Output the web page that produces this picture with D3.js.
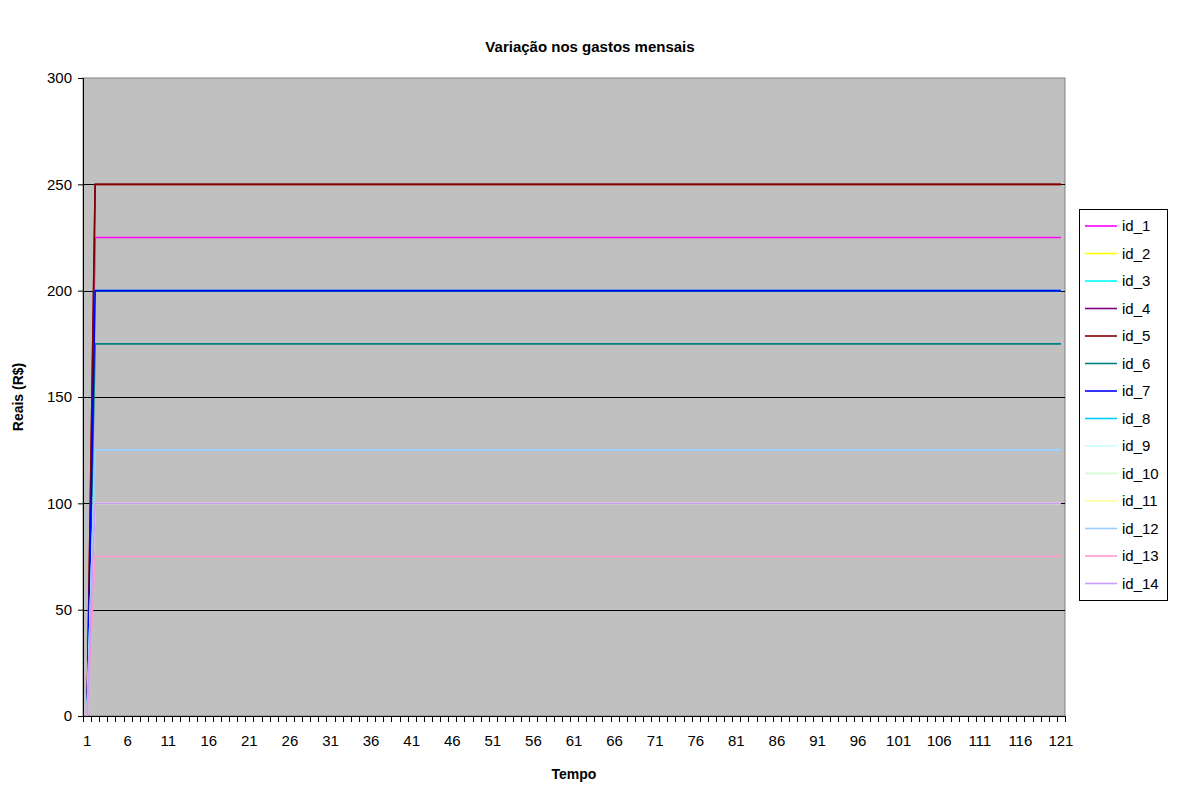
<!DOCTYPE html>
<html>
<head>
<meta charset="utf-8">
<script src="https://cdn.jsdelivr.net/npm/d3@7"></script>
<style>
  body { margin: 0; background: #fff; }
  text { font-family: Arial, "Liberation Sans", sans-serif; }
</style>
</head>
<body>
<script>
var svgWidth = 1179;
var svgHeight = 787;

// plot area (Excel style)
var margin = { top: 78, right: 114, bottom: 71, left: 83 };
var chartWidth = svgWidth - margin.left - margin.right;
var chartHeight = svgHeight - margin.top - margin.bottom;

// categories 1..121 (time steps)
var tempo = d3.range(1, 122);
var xTickLabels = d3.range(1, 122, 5);
var yTicks = [0, 50, 100, 150, 200, 250, 300];

// series: start value at t=1, then a constant level from t=2 on
var seriesNames = ["id_1", "id_2", "id_3", "id_4", "id_5", "id_6", "id_7",
                   "id_8", "id_9", "id_10", "id_11", "id_12", "id_13", "id_14"];
var startValues = [0, 0, 0, 0, 0, 0, 0, 0, 0, 0, 0, 0, 0, 0];
var levelValues = [225, 250, 200, 250, 250, 175, 200, 125, 125, 100, 100, 125, 75, 100];
var seriesColors = ["#ff00ff", "#ffff00", "#00ffff", "#800080", "#800000", "#008080", "#0000ff",
                    "#00ccff", "#ccffff", "#ccffcc", "#ffff99", "#99ccff", "#ff99cc", "#cc99ff"];

var svg = d3.select("body").append("svg")
  .attr("width", svgWidth)
  .attr("height", svgHeight);

var chartGroup = svg.append("g")
  .attr("transform", `translate(${margin.left}, ${margin.top})`);

var xBand = d3.scaleBand()
  .domain(tempo)
  .range([0, chartWidth]);
var xPos = (d) => xBand(d) + xBand.bandwidth() / 2;

var yScale = d3.scaleLinear()
  .domain([0, 300])
  .range([chartHeight, 0]);

// background
chartGroup.append("rect")
  .attr("width", chartWidth)
  .attr("height", chartHeight)
  .attr("fill", "#c0c0c0")
  .attr("stroke", "#808080")
  .attr("stroke-width", 1);

// gridlines
chartGroup.append("g")
  .selectAll("line")
  .data(yTicks.filter(d => d > 0 && d < 300))
  .enter().append("line")
  .attr("x1", 0)
  .attr("x2", chartWidth)
  .attr("y1", d => Math.round(yScale(d)) + 0.5)
  .attr("y2", d => Math.round(yScale(d)) + 0.5)
  .attr("stroke", "#000")
  .attr("stroke-width", 1);

// series lines
var line = d3.line()
  .x(d => xPos(d.t))
  .y(d => yScale(d.v));

seriesNames.forEach((name, i) => {
  var pts = tempo.map(t => ({ t: t, v: t === 1 ? startValues[i] : levelValues[i] }));
  chartGroup.append("path")
    .datum(pts)
    .attr("fill", "none")
    .attr("stroke", seriesColors[i])
    .attr("stroke-width", 1.6)
    .attr("d", line);
});

// y axis
var leftAxis = d3.axisLeft(yScale).tickValues(yTicks).tickSize(5).tickPadding(6);
var yAxisG = chartGroup.append("g").call(leftAxis);
yAxisG.select(".domain").attr("stroke", "#000");
yAxisG.selectAll("text").style("font-size", "15px").attr("fill", "#000");

// x axis: tick marks at category boundaries, labels every 5
var xAxisG = chartGroup.append("g")
  .attr("transform", `translate(0, ${chartHeight})`);
xAxisG.append("line")
  .attr("x1", 0).attr("x2", chartWidth)
  .attr("y1", 0.5).attr("y2", 0.5)
  .attr("stroke", "#000");
xAxisG.selectAll("line.tick")
  .data(tempo.concat([122]))
  .enter().append("line")
  .attr("class", "tick")
  .attr("x1", d => Math.round(d === 122 ? chartWidth : xBand(d)) + 0.5)
  .attr("x2", d => Math.round(d === 122 ? chartWidth : xBand(d)) + 0.5)
  .attr("y1", 0)
  .attr("y2", 6)
  .attr("stroke", "#000");
xAxisG.selectAll("text")
  .data(xTickLabels)
  .enter().append("text")
  .attr("x", d => xPos(d))
  .attr("y", 30)
  .attr("text-anchor", "middle")
  .style("font-size", "15px")
  .text(d => d);

// title and axis titles
svg.append("text")
  .attr("x", 590)
  .attr("y", 52)
  .attr("text-anchor", "middle")
  .style("font-size", "15px")
  .style("font-weight", "bold")
  .text("Variação nos gastos mensais");

svg.append("text")
  .attr("x", 574)
  .attr("y", 779)
  .attr("text-anchor", "middle")
  .style("font-size", "14px")
  .style("font-weight", "bold")
  .text("Tempo");

svg.append("text")
  .attr("transform", "translate(23, 397) rotate(-90)")
  .attr("text-anchor", "middle")
  .style("font-size", "14px")
  .style("font-weight", "bold")
  .text("Reais (R$)");

// legend
var legendX = 1079, legendY = 209, legendW = 88, legendH = 391, rowH = 27.5;
var legend = svg.append("g");
legend.append("rect")
  .attr("x", legendX + 0.5)
  .attr("y", legendY + 0.5)
  .attr("width", legendW)
  .attr("height", legendH)
  .attr("fill", "#fff")
  .attr("stroke", "#000");
var items = legend.selectAll("g.item")
  .data(seriesNames)
  .enter().append("g")
  .attr("class", "item")
  .attr("transform", (d, i) => `translate(${legendX}, ${legendY + 17 + i * rowH})`);
items.append("line")
  .attr("x1", 6).attr("x2", 38)
  .attr("y1", 0).attr("y2", 0)
  .attr("stroke", (d, i) => seriesColors[i])
  .attr("stroke-width", 1.6);
items.append("text")
  .attr("x", 43)
  .attr("y", 5)
  .style("font-size", "15px")
  .text(d => d);
</script>
</body>
</html>
